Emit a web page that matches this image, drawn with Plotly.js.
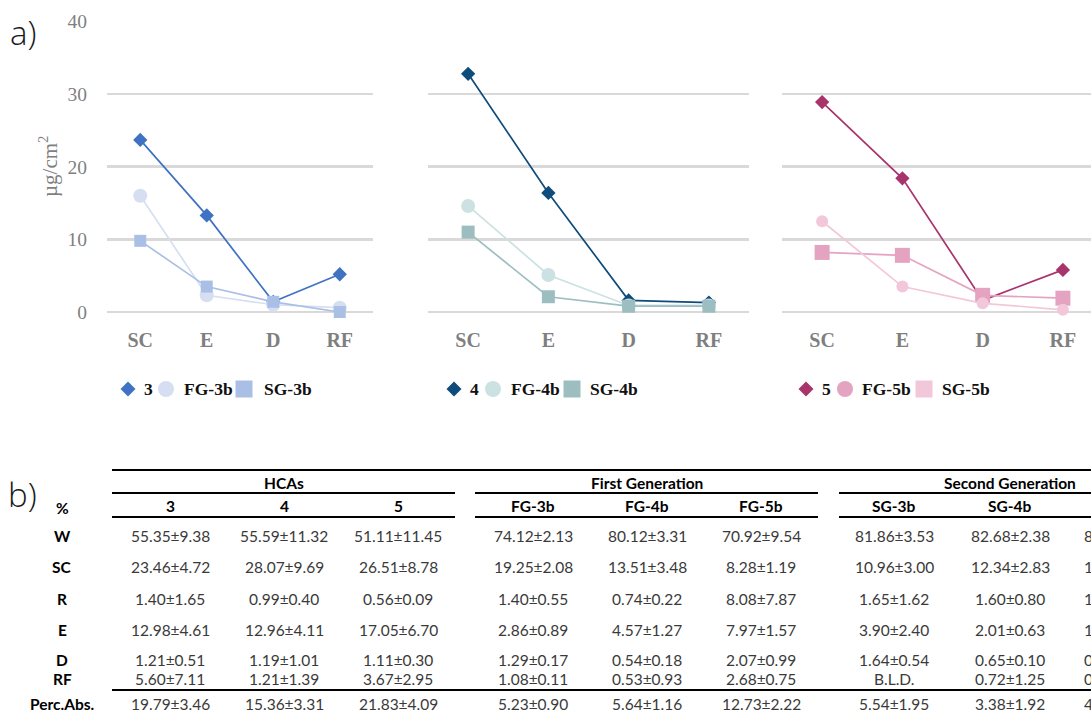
<!DOCTYPE html>
<html><head><meta charset="utf-8">
<script src="https://cdn.plot.ly/plotly-3.0.1.min.js"></script>
<style>html,body{margin:0;padding:0;overflow:hidden;background:#fff}</style>
</head><body><div id="chart" style="width:1091px;height:718px"></div>
<script>
// ---------- a) line charts data (µg/cm²) ----------
const categories = ['SC', 'E', 'D', 'RF'];
const yTicks = [0, 10, 20, 30, 40];
const s3   = [23.7, 13.3, 1.4, 5.2];
const fg3b = [16.0, 2.3, 1.0, 0.6];
const sg3b = [9.8, 3.5, 1.4, 0.0];
const s4   = [32.8, 16.4, 1.6, 1.3];
const fg4b = [14.6, 5.1, 0.9, 0.9];
const sg4b = [11.0, 2.1, 0.8, 0.8];
const s5   = [28.9, 18.4, 1.6, 5.8];
const fg5b = [12.5, 3.5, 1.2, 0.3];
const sg5b = [8.2, 7.8, 2.3, 1.9];
const legendNames = [['3', 'FG-3b', 'SG-3b'], ['4', 'FG-4b', 'SG-4b'], ['5', 'FG-5b', 'SG-5b']];

// ---------- b) table data (%) ----------
const rowLabels = ['W', 'SC', 'R', 'E', 'D', 'RF', 'Perc.Abs.'];
const groupHeaders = ['HCAs', 'First Generation', 'Second Generation'];
const colHeaders = ['3', '4', '5', 'FG-3b', 'FG-4b', 'FG-5b', 'SG-3b', 'SG-4b'];
const colHCA3 = ['55.35±9.38', '23.46±4.72', '1.40±1.65', '12.98±4.61', '1.21±0.51', '5.60±7.11', '19.79±3.46'];
const colHCA4 = ['55.59±11.32', '28.07±9.69', '0.99±0.40', '12.96±4.11', '1.19±1.01', '1.21±1.39', '15.36±3.31'];
const colHCA5 = ['51.11±11.45', '26.51±8.78', '0.56±0.09', '17.05±6.70', '1.11±0.30', '3.67±2.95', '21.83±4.09'];
const colFG3b = ['74.12±2.13', '19.25±2.08', '1.40±0.55', '2.86±0.89', '1.29±0.17', '1.08±0.11', '5.23±0.90'];
const colFG4b = ['80.12±3.31', '13.51±3.48', '0.74±0.22', '4.57±1.27', '0.54±0.18', '0.53±0.93', '5.64±1.16'];
const colFG5b = ['70.92±9.54', '8.28±1.19', '8.08±7.87', '7.97±1.57', '2.07±0.99', '2.68±0.75', '12.73±2.22'];
const colSG3b = ['81.86±3.53', '10.96±3.00', '1.65±1.62', '3.90±2.40', '1.64±0.54', 'B.L.D.', '5.54±1.95'];
const colSG4b = ['82.68±2.38', '12.34±2.83', '1.60±0.80', '2.01±0.63', '0.65±0.10', '0.72±1.25', '3.38±1.92'];
// SG-5b column is cut off at the image edge: only its first characters are visible
const colSG5bVisible = ['8', '1', '1', '1', '0', '0', '4'];

// ---------- helpers ----------
const W = 1091, H = 718;
const px = x => x / W;
const py = y => 1 - y / H;
const SERIF = 'Liberation Serif, DejaVu Serif, serif';
const SANS = 'Lato, Open Sans, sans-serif';

const panelColors = [
  {main: '#3f72c2', fg: '#d6dff2', sg: '#aabfe6'},
  {main: '#0d4c7b', fg: '#cce1e2', sg: '#9dbec1'},
  {main: '#a8346c', fg: '#f3c7da', sg: '#e5a3c2'}
];
const legendColors = [
  {main: '#3f72c2', fg: '#d6dff2', sg: '#aabfe6'},
  {main: '#0d4c7b', fg: '#cce1e2', sg: '#9dbec1'},
  {main: '#a8346c', fg: '#e5a3c2', sg: '#f3c7da'}
];
const series = [[s3, fg3b, sg3b], [s4, fg4b, sg4b], [s5, fg5b, sg5b]];
const markerSizes = [
  {d: 11, c: 14, s: 12},
  {d: 11, c: 14, s: 13},
  {d: 11, c: 12, s: 15}
];

const traces = [];
series.forEach((grp, i) => {
  const ax = i === 0 ? '' : String(i + 1);
  const col = panelColors[i], ms = markerSizes[i];
  const mk = (y, name, color, symbol, size) => ({
    type: 'scatter', mode: 'lines+markers', x: categories, y: y, name: name,
    xaxis: 'x' + ax, yaxis: 'y' + ax, cliponaxis: false, showlegend: false,
    line: {color: color, width: 1.7},
    marker: {symbol: symbol, size: size, color: color}
  });
  const tMain = mk(grp[0], legendNames[i][0], col.main, 'diamond', ms.d);
  const tFG = mk(grp[1], legendNames[i][1], col.fg, 'circle', ms.c);
  const tSG = mk(grp[2], legendNames[i][2], col.sg, 'square', ms.s);
  if (i === 2) traces.push(tMain, tSG, tFG); else traces.push(tMain, tFG, tSG);
});

const yDomain = [py(312), py(21.5)];
function xAxis(d0, d1, range) {
  return {
    domain: [px(d0), px(d1)], range: range, type: 'category',
    showgrid: false, zeroline: false, showline: false, ticks: '',
    ticklabelstandoff: 14, automargin: false, fixedrange: true,
    tickfont: {family: SERIF, size: 20, color: '#7f7f7f', weight: 'bold'}
  };
}
function yAxis(anchor, labels) {
  return {
    domain: yDomain, range: [0, 40], anchor: anchor, tickvals: yTicks,
    showgrid: true, gridcolor: '#d9d9d9', gridwidth: 2.6,
    zeroline: true, zerolinecolor: '#d9d9d9', zerolinewidth: 2.6,
    showline: false, ticks: '', showticklabels: labels, ticklabelstandoff: 19,
    automargin: false, fixedrange: true,
    tickfont: {family: SERIF, size: 19.5, color: '#7f7f7f'}
  };
}

const annotations = [];
const shapes = [];
const txt = (text, x, y, opt) => annotations.push(Object.assign({
  text: text, x: px(x), y: py(y), xref: 'paper', yref: 'paper', showarrow: false,
  xanchor: 'center', yanchor: 'middle', font: {family: SANS, size: 15.5, color: '#3a3a3a'}
}, opt || {}));

// panel labels
txt('a)', 23, 33, {font: {family: 'Open Sans, sans-serif', size: 33, color: '#1a1a1a', weight: 300}});
txt('b)', 23, 494, {font: {family: 'Open Sans, sans-serif', size: 33, color: '#1a1a1a', weight: 300}});
// y-axis title
txt('µg/cm<sup>2</sup>', 48, 167, {textangle: -90, font: {family: SERIF, size: 21, color: '#7f7f7f'}});

// legends (keys + labels)
const legendPos = [
  {d: 128, t0: 142, c: 166, t1: 182, s: 244, t2: 262},
  {d: 454, t0: 468, c: 493, t1: 509, s: 572, t2: 588},
  {d: 806, t0: 820, c: 845, t1: 860, s: 924, t2: 940}
];
const legY = 389;
legendPos.forEach((p, i) => {
  const col = legendColors[i];
  const r = 7.5, rc = 8, rs = 8.5;
  shapes.push({type: 'path', xref: 'paper', yref: 'paper',
    path: `M ${px(p.d - r)} ${py(legY)} L ${px(p.d)} ${py(legY - r)} L ${px(p.d + r)} ${py(legY)} L ${px(p.d)} ${py(legY + r)} Z`,
    fillcolor: col.main, line: {width: 0}});
  shapes.push({type: 'circle', xref: 'paper', yref: 'paper',
    x0: px(p.c - rc), x1: px(p.c + rc), y0: py(legY + rc), y1: py(legY - rc),
    fillcolor: col.fg, line: {width: 0}});
  shapes.push({type: 'rect', xref: 'paper', yref: 'paper',
    x0: px(p.s - rs), x1: px(p.s + rs), y0: py(legY + rs), y1: py(legY - rs),
    fillcolor: col.sg, line: {width: 0}});
  const lf = {family: SERIF, size: 17.5, color: '#111', weight: 'bold'};
  txt(legendNames[i][0], p.t0, legY, {xanchor: 'left', font: lf});
  txt(legendNames[i][1], p.t1, legY, {xanchor: 'left', font: lf});
  txt(legendNames[i][2], p.t2, legY, {xanchor: 'left', font: lf});
});

// ---------- table ----------
const colX = [170, 284, 398, 533, 647, 761, 894, 1010];
const groupX = [284, 647, 1010];
const rowY = [536, 567, 599, 630, 660, 679, 704];
const cols = [colHCA3, colHCA4, colHCA5, colFG3b, colFG4b, colFG5b, colSG3b, colSG4b];
const bold = {family: SANS, size: 15.5, color: '#000', weight: 'bold'};
groupHeaders.forEach((g, i) => txt(g, groupX[i], 483, {font: bold}));
colHeaders.forEach((h, i) => txt(h, colX[i], 506, {font: bold}));
txt('%', 62, 508, {font: bold});
rowLabels.forEach((r, j) => txt(r, 62, rowY[j], {font: bold}));
cols.forEach((c, i) => c.forEach((v, j) => txt(v, colX[i], rowY[j])));
colSG5bVisible.forEach((v, j) => txt(v, 1082, rowY[j], {xanchor: 'left'}));

const hline = (x0, x1, y, w) => shapes.push({type: 'line', xref: 'paper', yref: 'paper',
  x0: px(x0), x1: px(x1), y0: py(y), y1: py(y), line: {color: '#000', width: w}});
hline(112, 1091, 470, 2);
[[112, 455], [475, 818], [839, 1091]].forEach(s => { hline(s[0], s[1], 493, 2); hline(s[0], s[1], 517, 2); });
hline(112, 1091, 690, 2);

const layout = {
  width: W, height: H, margin: {l: 0, r: 0, t: 0, b: 0},
  paper_bgcolor: '#fff', plot_bgcolor: 'rgba(0,0,0,0)', showlegend: false,
  xaxis: xAxis(107, 373, [-0.5, 3.5]),
  xaxis2: xAxis(428, 749, [-0.5, 3.5]),
  xaxis3: xAxis(782, 1091, [-0.5, 3.35]),
  yaxis: yAxis('x', true),
  yaxis2: yAxis('x2', false),
  yaxis3: yAxis('x3', false),
  annotations: annotations, shapes: shapes
};
layout.xaxis2.anchor = 'y2';
layout.xaxis3.anchor = 'y3';

Plotly.newPlot('chart', traces, layout, {displayModeBar: false, staticPlot: true});
</script></body></html>
